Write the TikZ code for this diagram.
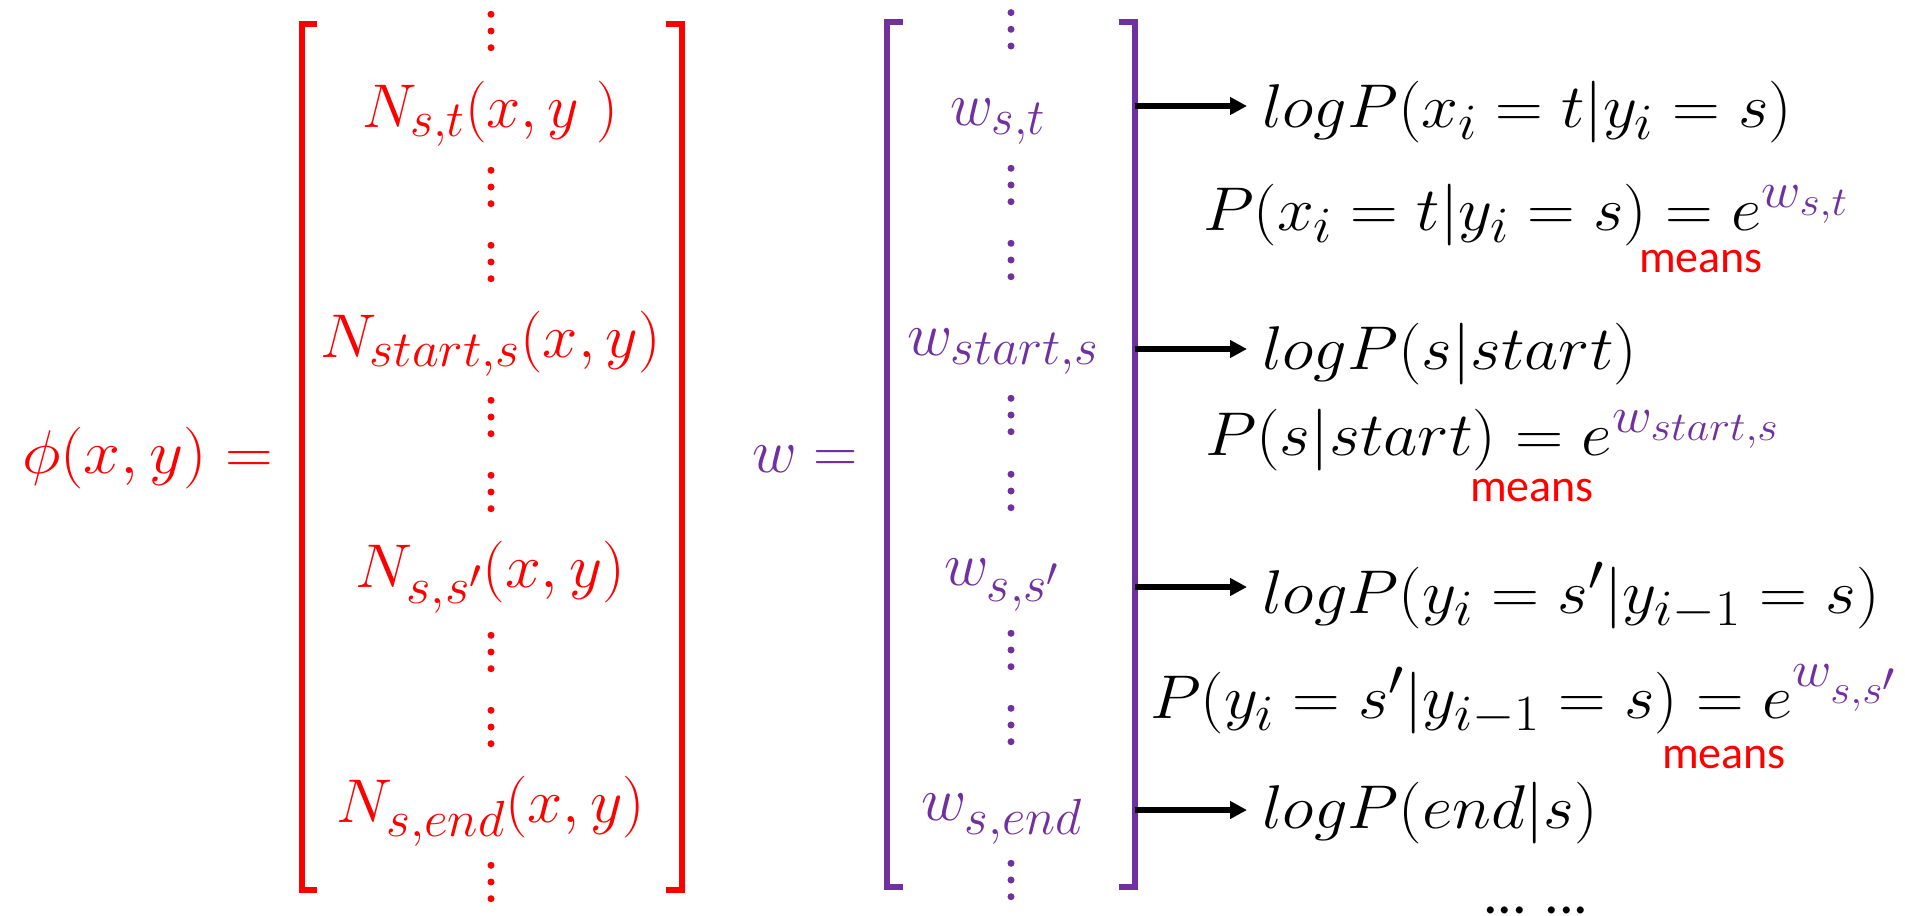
\documentclass[tikz,border=0pt]{standalone}
\usepackage{fix-cm}
\usepackage{graphicx}
\usepackage{fontspec}
\newfontfamily\calib{Carlito}
\usetikzlibrary{arrows.meta}
\definecolor{pptred}{RGB}{255,0,0}
\definecolor{pptpurple}{RGB}{112,48,160}
\DeclareMathSizes{62}{62}{51}{41}
\newcommand{\bigsz}{\fontsize{62}{72}\selectfont}
\newcommand{\meanssz}{\fontsize{46bp}{52bp}\selectfont\calib}
\newcommand{\fitw}[2]{\resizebox{#1bp}{\height}{$#2$}}
\begin{document}
\begin{tikzpicture}[x=1bp,y=-1bp,
  txt/.style={inner sep=0pt, outer sep=0pt, font=\bigsz},
  redt/.style={txt, text=pptred},
  purt/.style={txt, text=pptpurple},
  blkt/.style={txt, text=black},
  meanst/.style={inner sep=0pt, outer sep=0pt, font=\meanssz, text=pptred},
  brk/.style={line width=6bp, line cap=butt, line join=miter},
  arr/.style={line width=5.5bp, -{Triangle[length=17bp,width=17bp]}, shorten >=15bp},
  dotr/.style={fill=pptred},
  dotp/.style={fill=pptpurple}
]
\useasboundingbox (0,0) rectangle (1905,916);

% brackets
\draw[brk, pptred] (317,24) -- (301.5,24) -- (301.5,890) -- (317,890);
\draw[brk, pptred] (666,24) -- (682,24) -- (682,890) -- (666,890);
\draw[brk, pptpurple] (903,22) -- (886.5,22) -- (886.5,887) -- (903,887);
\draw[brk, pptpurple] (1119,22) -- (1135,22) -- (1135,887) -- (1119,887);

% vertical dots
\foreach \m in {31,187,262,417,492,652,727,882}
  \foreach \d in {-16.7,0,16.7}
    \fill[dotr] (491,\m+\d) circle (3.5bp);
\foreach \m in {29.3,185,260,415,491,650,725,880}
  \foreach \d in {-16.7,0,16.7}
    \fill[dotp] (1011,\m+\d) circle (3.5bp);

% left vector
\node[redt, anchor=base west] (phi) at (22,473) {\fitw{251}{\phi(x,y) =}};
\node[redt, anchor=base] (n1) at (490,127) {\fitw{256}{N_{s,t}(x,y\;)}};
\node[redt, anchor=base] (n2) at (490.5,357) {\fitw{341}{N_{start,s}(x,y)}};
\node[redt, anchor=base] (n3) at (490.5,587) {\fitw{269}{N_{s,s'}(x,y)}};
\node[redt, anchor=base] (n4) at (491,822) {\fitw{308}{N_{s,end}(x,y)}};

% weight vector
\node[purt, anchor=base west] (weq) at (752,472) {\fitw{106}{w =}};
\node[purt, anchor=base] (w1) at (997.5,125) {\fitw{95}{w_{s,t}}};
\node[purt, anchor=base] (w2) at (1003,355) {\fitw{192}{w_{start,s}}};
\node[purt, anchor=base] (w3) at (1001.5,585) {\fitw{115}{w_{s,s'}}};
\node[purt, anchor=base] (w4) at (1001.5,820) {\fitw{161}{w_{s,end}}};

% right column
\node[blkt, anchor=base west] (l1) at (1262,127) {\fitw{530}{logP(x_i = t|y_i = s)}};
\node[blkt, anchor=base west] (p1) at (1203,230) {\fitw{645}{P(x_i = t|y_i = s) = e^{\color{pptpurple}w_{s,t}}}};
\node[meanst, anchor=base west] (m1) at (1639,272) {means};
\node[blkt, anchor=base west] (l2) at (1262,369) {\fitw{375}{logP(s|start)}};
\node[blkt, anchor=base west] (p2) at (1205,455) {\fitw{574}{P(s|start) = e^{\color{pptpurple}w_{start,s}}}};
\node[meanst, anchor=base west] (m2) at (1470,501) {means};
\node[blkt, anchor=base west] (l3) at (1262,613) {\fitw{618}{logP(y_i = s'|y_{i-1} = s)}};
\node[blkt, anchor=base west] (p3) at (1150,718) {\fitw{746}{P(y_i = s'|y_{i-1} = s) = e^{\color{pptpurple}w_{s,s'}}}};
\node[meanst, anchor=base west] (m3) at (1662,768) {means};
\node[blkt, anchor=base west] (l4) at (1262,828) {\fitw{336}{logP(end|s)}};
\node[anchor=base west, inner sep=0pt, font=\fontsize{58bp}{60bp}\selectfont\calib] (dd) at (1483,913) {... ...};

% arrows
\coordinate (b1) at (1135,106);
\coordinate (b2) at (1135,349);
\coordinate (b3) at (1135,587);
\coordinate (b4) at (1135,810);
\draw[arr] (b1) -- (b1 -| l1.west);
\draw[arr] (b2) -- (b2 -| l2.west);
\draw[arr] (b3) -- (b3 -| l3.west);
\draw[arr] (b4) -- (b4 -| l4.west);
\end{tikzpicture}
\end{document}
